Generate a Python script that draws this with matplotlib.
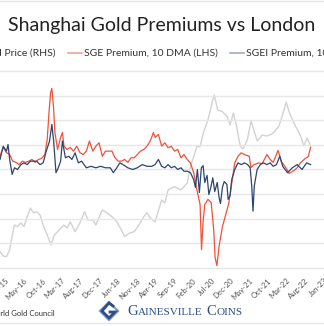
import matplotlib
matplotlib.use("Agg")
import matplotlib.pyplot as plt
from matplotlib.lines import Line2D
from matplotlib.patches import Polygon

# ---------------- data (x = trading-day index, tick every 105 days) ----------------
tick_labels = ["Dec-15", "May-16", "Oct-16", "Mar-17", "Aug-17", "Dec-17", "Jun-18",
               "Nov-18", "Apr-19", "Sep-19", "Feb-20", "Jul-20", "Dec-20", "May-21",
               "Oct-21", "Mar-22", "Aug-22", "Jan-23"]

gold_day = [-27, -9, 9, 27, 44, 54, 70, 90, 107, 123, 143, 161, 177, 197, 214, 241, 259,
            277, 304, 331, 348, 366, 393, 420, 446, 465, 492, 509, 545, 572, 599, 626,
            652, 670, 697, 724, 750, 777, 795, 813, 840, 857, 877, 895, 913, 949, 985,
            1020, 1038, 1056, 1074, 1092, 1110, 1136, 1163, 1172, 1190, 1217, 1243,
            1260, 1278, 1297, 1316, 1332, 1356, 1377, 1394, 1412, 1439, 1466, 1493,
            1512, 1533, 1555, 1573, 1592, 1619, 1640, 1656, 1672, 1691, 1710]
gold_price = [1097, 1070, 1066, 1107, 1211, 1260, 1250, 1273, 1250, 1303, 1364, 1334,
              1342, 1321, 1260, 1189, 1138, 1199, 1230, 1260, 1242, 1280, 1219, 1273,
              1342, 1291, 1291, 1260, 1352, 1334, 1311, 1280, 1230, 1189, 1211, 1219,
              1260, 1311, 1336, 1303, 1280, 1340, 1413, 1395, 1475, 1495, 1475, 1517,
              1617, 1678, 1740, 1740, 1823, 1903, 2026, 2056, 1964, 1954, 1923, 1872,
              1946, 1860, 1744, 1726, 1781, 1897, 1836, 1774, 1811, 1805, 1817, 1836,
              1866, 1940, 2013, 1946, 1879, 1836, 1799, 1744, 1793, 1744]

sge_day = [-27, -9, 9, 27, 44, 63, 80, 98, 116, 134, 152, 170, 188, 205, 224, 237, 247,
           256, 263, 272, 280, 295, 312, 322, 331, 348, 366, 384, 402, 420, 438, 456,
           473, 492, 509, 527, 545, 563, 581, 599, 616, 634, 652, 670, 688, 706, 724,
           741, 759, 777, 795, 813, 831, 841, 859, 877, 895, 913, 931, 949, 967, 985,
           1002, 1020, 1038, 1056, 1074, 1092, 1100, 1109, 1118, 1136, 1154, 1168,
           1176, 1186, 1198, 1217, 1234, 1252, 1268, 1286, 1304, 1322, 1340, 1367,
           1376, 1394, 1421, 1439, 1466, 1484, 1501, 1528, 1546, 1572, 1590, 1617,
           1635, 1653, 1680, 1697, 1710]
sge_prem = [5.4, 9.0, 6.9, 6.1, 3.4, 2.9, 2.0, 3.4, 2.9, 3.4, 4.1, 2.9, 4.1, 4.5, 6.1,
            12.2, 23.3, 31.4, 33.1, 25.8, 15.1, 8.2, 13.1, 15.1, 9.5, 8.2, 9.0, 7.5, 9.5,
            6.9, 6.1, 7.5, 11.6, 7.5, 9.5, 10.9, 5.4, 7.5, 7.5, 7.5, 4.8, 3.4, 3.4, 4.1,
            2.9, 4.8, 4.8, 6.1, 7.5, 8.2, 9.5, 11.6, 15.1, 13.1, 14.3, 9.5, 10.9, 8.9,
            9.5, 7.5, 8.2, 4.8, 6.1, 4.1, 2.7, -1.3, -8.2, -14.3, -32.7, -21.2, -14.3,
            -12.2, -13.5, -24.5, -35.9, -39.2, -31.4, -23.3, -18.8, -13.9, -6.1, 2.7,
            5.4, 6.8, 6.1, 5.4, 0.8, 2.0, 2.7, 2.4, 6.1, 4.1, 2.9, 7.8, 3.3, 0.7, -1.6,
            -0.4, 0.7, 2.7, 4.5, 5.3, 9.0]

sgei_day = [-27, -9, 9, 18, 27, 41, 54, 71, 90, 107, 125, 143, 161, 178, 197, 214, 232,
            250, 263, 273, 286, 299, 312, 322, 339, 358, 375, 393, 411, 429, 456, 482,
            509, 536, 563, 590, 607, 626, 643, 661, 688, 715, 741, 768, 795, 822, 840,
            859, 877, 895, 913, 931, 949, 967, 985, 1002, 1020, 1038, 1056, 1066, 1077,
            1088, 1099, 1109, 1118, 1131, 1141, 1152, 1163, 1174, 1188, 1198, 1206,
            1217, 1227, 1242, 1249, 1260, 1269, 1286, 1304, 1322, 1340, 1358, 1372,
            1381, 1388, 1395, 1411, 1429, 1447, 1465, 1484, 1501, 1519, 1538, 1554,
            1581, 1608, 1635, 1662, 1688, 1710]
sgei_prem = [4.1, 9.5, 7.5, 10.2, 4.1, -2.0, 0.7, 0.0, 2.0, 2.7, 2.0, 3.4, 3.4, 3.4,
             2.0, 2.7, 7.5, 11.6, 18.4, 11.6, -1.3, 0.7, 3.4, 11.6, 4.8, 5.4, 4.1, 6.8,
             2.7, 3.4, 0.7, 1.3, 0.7, 1.3, 0.7, 0.7, -1.3, 0.7, 2.7, 2.0, 0.7, 0.0, 0.7,
             2.0, 1.3, 1.3, 2.0, 4.1, 1.3, 0.7, 2.0, 0.7, 1.3, 0.0, 0.7, -0.7, -0.7,
             -1.3, -4.1, -7.3, 0.0, -9.4, 0.7, 1.6, -5.3, -2.4, -10.2, -7.3, -3.4, -9.0,
             -5.3, -11.4, -13.9, -7.3, -4.9, -6.1, -12.2, -10.6, -4.1, 0.0, 2.7, 2.0,
             2.7, 2.0, 0.7, -6.8, -17.0, -6.8, 0.0, 2.0, 2.7, 2.0, 2.7, 1.3, 2.0, 5.4,
             1.3, -1.3, 0.7, 2.0, 0.0, 2.7, 2.0]

# ---------------- figure ----------------
W, H = 324, 326
fig = plt.figure(figsize=(W / 100, H / 100), dpi=100)
fig.patch.set_facecolor("white")

def fx(px):
    return px / W

def fy(py):
    return 1 - py / H

FONT = ["Lato", "DejaVu Sans"]
RED = "#F2503A"
NAVY = "#2C4670"
GRAY = "#D2D2D2"

top_px, bot_px = 71.5, 267.5
unit = (bot_px - top_px) / 80.0
ax = fig.add_axes([0, fy(bot_px + unit), 1, (bot_px - top_px + 2 * unit) / H])
ax2 = ax.twinx()
ax.set_zorder(2)
ax.patch.set_visible(False)
ax2.set_zorder(1)

ax2.plot(gold_day, gold_price, color=GRAY, lw=1.0)
ax.plot(sge_day, sge_prem, color=RED, lw=0.9)
ax.plot(sgei_day, sgei_prem, color=NAVY, lw=0.9)

ax.set_xlim(-27, 1712)
ax.set_ylim(-41, 41)
ax2.set_ylim(1000 - 15, 2200 + 15)
ax.set_yticks(range(-40, 41, 10))
ax.yaxis.grid(True, color="#E7E7E7", lw=1.0)
ax.set_axisbelow(True)
ax.tick_params(axis="y", left=False, labelleft=False)
ax2.tick_params(axis="y", right=False, labelright=False)
for a in (ax, ax2):
    for s in a.spines.values():
        s.set_visible(False)

ax.set_xticks([105 * i for i in range(len(tick_labels))])
ax.set_xticklabels(tick_labels, rotation=45, ha="right", va="top",
                   rotation_mode="anchor", fontsize=5.6, color="#555555", family=FONT)
ax.tick_params(axis="x", length=0, pad=5)

# ---------------- title & legend ----------------
fig.text(fx(162), fy(25), "Shanghai Gold Premiums vs London", ha="center", va="center",
         fontsize=14, color="#222222", family=FONT)

ly = fy(53)
fig.text(fx(55), ly, "Gold Price (RHS)", ha="right", va="center", fontsize=7.5,
         color="#333333", family=FONT)
fig.add_artist(Line2D([fx(68), fx(82)], [ly, ly], color="#F5A291", lw=1.2))
fig.text(fx(84), ly, "SGE Premium, 10 DMA (LHS)", ha="left", va="center", fontsize=7.5,
         color="#333333", family=FONT)
fig.add_artist(Line2D([fx(230), fx(244)], [ly, ly], color="#A3ACC0", lw=1.2))
fig.text(fx(246), ly, "SGEI Premium, 10 DMA (LHS)", ha="left", va="center",
         fontsize=7.5, color="#333333", family=FONT)

# frame lines
fig.add_artist(Line2D([0, 1], [fy(1), fy(1)], color="#E6E6E6", lw=1))
fig.add_artist(Line2D([0, 1], [fy(323), fy(323)], color="#E6E6E6", lw=1))

# ---------------- source & logo ----------------
fig.text(fx(55), fy(313), "Source: World Gold Council", ha="right", va="center",
         fontsize=5.5, color="#333333", family=FONT)

LOGO = "#2D4F86"
LOGO2 = "#7F9CC8"
cx, cy, r = 109, 311, 9
outer = [(cx, cy - r), (cx + r, cy), (cx, cy + r), (cx - r, cy)]
fig.add_artist(Polygon([(fx(a), fy(b)) for a, b in outer], closed=True, fill=False,
                       edgecolor=LOGO2, lw=1.6, transform=fig.transFigure))
gshape = [(cx + 4, cy - 5), (cx, cy - 8), (cx - 7, cy), (cx, cy + 7), (cx + 6, cy + 1),
          (cx + 1, cy + 1)]
fig.add_artist(Line2D([fx(a) for a, b in gshape], [fy(b) for a, b in gshape],
                      color=LOGO, lw=2.0, solid_joinstyle="miter"))

renderer = fig.canvas.get_renderer()
x = fx(127)
pieces = [("G", 10.5), ("AINESVILLE", 8.0), (" ", 8.0), ("C", 10.5), ("OINS", 8.0)]
for txt, size in pieces:
    t = fig.text(x, fy(315), txt, ha="left", va="baseline", fontsize=size,
                 color=LOGO, family=["Liberation Serif", "DejaVu Serif"])
    bb = t.get_window_extent(renderer=renderer)
    x += bb.width / (W) + 0.001

fig.savefig("out.png", dpi=100)
